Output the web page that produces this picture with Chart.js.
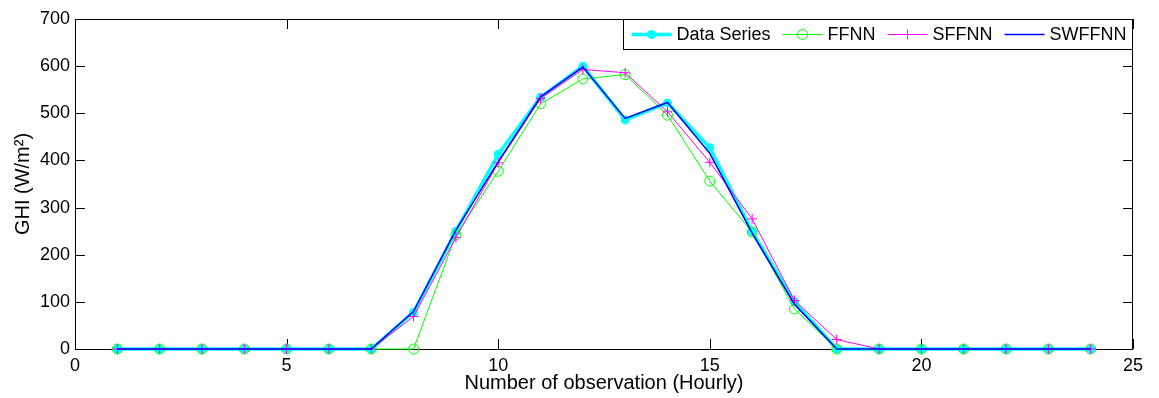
<!DOCTYPE html>
<html>
<head>
<meta charset="utf-8">
<script src="https://cdn.jsdelivr.net/npm/chart.js@4.4.0/dist/chart.umd.min.js"></script>
<style>
  html, body { margin: 0; padding: 0; background: #fff; }
  #wrap { width: 1159px; height: 398px; }
</style>
</head>
<body>
<div id="wrap"><canvas id="chartGhi" width="1159" height="398"></canvas></div>
<script>
// observation index (hour)
const hours = [1, 2, 3, 4, 5, 6, 7, 8, 9, 10, 11, 12, 13, 14, 15, 16, 17, 18, 19, 20, 21, 22, 23, 24];

// GHI values (W/m2)
const dataSeries = [0, 0, 0, 0, 0, 0, 0, 78, 250, 413, 534, 600, 486, 522, 427, 249, 100, 0, 0, 0, 0, 0, 0, 0];
const ffnn       = [0, 0, 0, 0, 0, 0, 0, 0, 242, 377, 520, 573, 582, 496, 356, 248, 85, 0, 0, 0, 0, 0, 0, 0];
const sffnn      = [0, 0, 0, 0, 0, 0, 0, 69, 236, 395, 531, 593, 586, 503, 396, 276, 103, 20, 0, 0, 0, 0, 0, 0];
const swffnn     = [0, 0, 0, 0, 0, 0, 0, 80, 252, 397, 535, 598, 489, 523, 415, 246, 95, 0, 0, 0, 0, 0, 0, 0];

const seriesNames = ['Data Series', 'FFNN', 'SFFNN', 'SWFFNN'];

const xTitle = 'Number of observation (Hourly)';
const yTitle = 'GHI (W/m\u00B2)';

const FONT = "'Liberation Sans', Arial, sans-serif";

function toPoints(values) {
    return hours.map((h, i) => ({ x: h, y: values[i] }));
}

// legend sample styles (same as the datasets)
const legendStyles = [
    { color: '#00FFFF', width: 3.5, marker: 'dot' },
    { color: '#00FF00', width: 1, marker: 'circle' },
    { color: '#FF00FF', width: 1, marker: 'cross' },
    { color: '#0000FF', width: 1.5, marker: null }
];

function drawMarker(ctx, kind, cx, cy, color) {
    ctx.save();
    ctx.strokeStyle = color;
    ctx.fillStyle = color;
    ctx.lineWidth = 1;
    if (kind === 'dot') {
        ctx.beginPath();
        ctx.arc(cx, cy, 4.5, 0, Math.PI * 2);
        ctx.fill();
    } else if (kind === 'circle') {
        ctx.beginPath();
        ctx.arc(cx, cy, 5, 0, Math.PI * 2);
        ctx.stroke();
    } else if (kind === 'cross') {
        ctx.beginPath();
        ctx.moveTo(cx - 5, cy); ctx.lineTo(cx + 5, cy);
        ctx.moveTo(cx, cy - 5); ctx.lineTo(cx, cy + 5);
        ctx.stroke();
    }
    ctx.restore();
}

// axes box with inward ticks, like the original figure
const axesBox = {
    id: 'axesBox',
    beforeDatasetsDraw(chart) {
        const { ctx, chartArea: a, scales: { x, y } } = chart;
        const tick = 10;
        ctx.save();
        ctx.strokeStyle = '#000';
        ctx.lineWidth = 1;
        ctx.strokeRect(Math.round(a.left) + 0.5, Math.round(a.top) + 0.5,
            Math.round(a.right - a.left) - 1, Math.round(a.bottom - a.top));
        ctx.beginPath();
        x.ticks.forEach(t => {
            const px = Math.round(x.getPixelForValue(t.value)) + 0.5;
            ctx.moveTo(px, a.bottom); ctx.lineTo(px, a.bottom - tick);
            ctx.moveTo(px, a.top); ctx.lineTo(px, a.top + tick);
        });
        y.ticks.forEach(t => {
            const py = Math.round(y.getPixelForValue(t.value)) + 0.5;
            ctx.moveTo(a.left, py); ctx.lineTo(a.left + tick, py);
            ctx.moveTo(a.right, py); ctx.lineTo(a.right - tick, py);
        });
        ctx.stroke();
        ctx.restore();
    }
};

// boxed legend in the top right corner
const boxLegend = {
    id: 'boxLegend',
    afterDraw(chart) {
        const { ctx, chartArea: a } = chart;
        const top = Math.round(a.top) + 0.5;
        const h = 30;
        const right = Math.round(a.right) - 0.5;
        const left = 623.5;
        ctx.save();
        ctx.fillStyle = '#fff';
        ctx.fillRect(left, top, right - left, h);
        ctx.strokeStyle = '#000';
        ctx.lineWidth = 1;
        ctx.strokeRect(left, top, right - left, h);

        ctx.font = '18px ' + FONT;
        ctx.textBaseline = 'middle';
        ctx.textAlign = 'left';
        const cy = top + h / 2;
        let sx = left + 8;
        seriesNames.forEach((name, i) => {
            const st = legendStyles[i];
            ctx.strokeStyle = st.color;
            ctx.lineWidth = st.width;
            ctx.beginPath();
            ctx.moveTo(sx, cy); ctx.lineTo(sx + 40, cy);
            ctx.stroke();
            if (st.marker) drawMarker(ctx, st.marker, sx + 20, cy, st.color);
            ctx.fillStyle = '#000';
            ctx.fillText(name, sx + 45, cy + 1);
            sx += 45 + ctx.measureText(name).width + 12;
        });
        ctx.restore();
    }
};

const ctx = document.getElementById('chartGhi').getContext('2d');
const chartGhi = new Chart(ctx, {
    type: 'line',
    data: {
        datasets: [
            {
                label: seriesNames[0],
                data: toPoints(dataSeries),
                borderColor: '#00FFFF',
                backgroundColor: '#00FFFF',
                borderWidth: 3.5,
                pointRadius: 4.5,
                pointBorderWidth: 0,
                pointBackgroundColor: '#00FFFF',
                tension: 0,
                clip: false,
                order: 4
            },
            {
                label: seriesNames[1],
                data: toPoints(ffnn),
                borderColor: '#00FF00',
                borderWidth: 1,
                pointStyle: 'circle',
                pointRadius: 5,
                pointBorderWidth: 1,
                pointBorderColor: '#00FF00',
                pointBackgroundColor: 'rgba(0,0,0,0)',
                tension: 0,
                clip: false,
                order: 3
            },
            {
                label: seriesNames[2],
                data: toPoints(sffnn),
                borderColor: '#FF00FF',
                borderWidth: 1,
                pointStyle: 'cross',
                pointRadius: 5,
                pointBorderWidth: 1,
                pointBorderColor: '#FF00FF',
                tension: 0,
                clip: false,
                order: 2
            },
            {
                label: seriesNames[3],
                data: toPoints(swffnn),
                borderColor: '#0000FF',
                borderWidth: 1.5,
                pointRadius: 0,
                tension: 0,
                clip: false,
                order: 1
            }
        ]
    },
    options: {
        responsive: false,
        animation: false,
        layout: { padding: { left: 0, top: 19, right: 26, bottom: 0 } },
        plugins: {
            legend: { display: false },
            tooltip: { enabled: false }
        },
        scales: {
            x: {
                type: 'linear',
                min: 0,
                max: 25,
                ticks: { stepSize: 5, color: '#000', font: { family: FONT, size: 18 }, padding: 6, maxRotation: 0 },
                grid: { display: false, drawTicks: false, tickLength: 0 },
                border: { display: false },
                title: { display: true, text: xTitle, color: '#000', font: { family: FONT, size: 20 }, padding: { top: 0, bottom: 3 } },
                afterFit(scale) { scale.height = 49; }
            },
            y: {
                min: 0,
                max: 700,
                ticks: { stepSize: 100, color: '#000', font: { family: FONT, size: 18 }, padding: 5 },
                grid: { display: false, drawTicks: false, tickLength: 0 },
                border: { display: false },
                title: { display: true, text: yTitle, color: '#000', font: { family: FONT, size: 20 }, padding: { top: 11, bottom: 0 } },
                afterFit(scale) { scale.width = 75; }
            }
        }
    },
    plugins: [axesBox, boxLegend]
});
</script>
</body>
</html>
